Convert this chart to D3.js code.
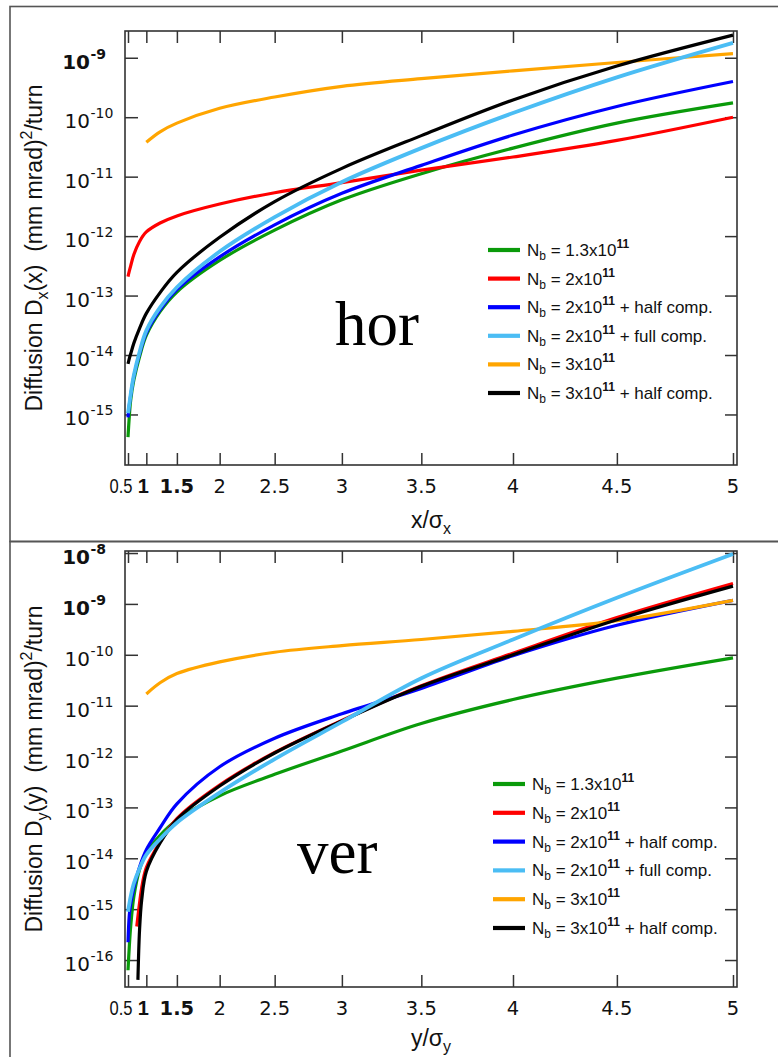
<!DOCTYPE html>
<html><head><meta charset="utf-8">
<script src="https://cdn.jsdelivr.net/npm/d3@7"></script>
<style>body{margin:0;background:#fff}svg{display:block}</style>
</head><body>
<svg id="c" width="778" height="1057" xmlns="http://www.w3.org/2000/svg"></svg>
<script>
// ---------- data ----------
const xTicks = [0.5, 1, 1.5, 2, 2.5, 3, 3.5, 4, 4.5, 5];
const xTickLabels = ["0.5", "1", "1.5", "2", "2.5", "3", "3.5", "4", "4.5", "5"];
const horYTickExps = [-9, -10, -11, -12, -13, -14, -15];
const verYTickExps = [-8, -9, -10, -11, -12, -13, -14, -15, -16];

const seriesColors = ["#0a9a0a", "#ff0000", "#0000ff", "#4bbdf4", "#ffa500", "#000000"];
const legendCoef = ["1.3x10", "2x10", "2x10", "2x10", "3x10", "3x10"];
const legendExp = ["11", "11", "11", "11", "11", "11"];
const legendSuffix = ["", "", " + half comp.", " + full comp.", "", " + half comp."];

// sample abscissae (x/sigma)
const xGrid = [0.5, 0.55, 0.6, 0.7, 0.85, 1, 1.25, 1.5, 2, 2.5, 3, 3.5, 4, 4.5, 5];
const xFrom1 = [1, 1.25, 1.5, 2, 2.5, 3, 3.5, 4, 4.5, 5];
const xRedVer = [0.78, 0.85, 0.9, 1, 1.25, 1.5, 2, 2.5, 3, 3.5, 4, 4.5, 5];
const xBlackVer = [0.81, 0.85, 0.9, 1, 1.25, 1.5, 2, 2.5, 3, 3.5, 4, 4.5, 5];

// horizontal: log10 of D_x (mm mrad)^2/turn
const horGreen  = [-15.38, -15.04, -14.76, -14.42, -14.03, -13.67, -13.27, -12.94, -12.41, -11.90, -11.39, -10.95, -10.52, -10.10, -9.76];
const horRed    = [-12.68, -12.59, -12.50, -12.31, -12.09, -11.93, -11.78, -11.66, -11.46, -11.27, -11.10, -10.89, -10.67, -10.39, -10.00];
const horBlue   = [-15.05, -14.85, -14.68, -14.36, -13.98, -13.63, -13.24, -12.90, -12.35, -11.81, -11.28, -10.81, -10.30, -9.82, -9.40];
const horLBlue  = [-14.98, -14.83, -14.66, -14.34, -13.95, -13.59, -13.20, -12.86, -12.26, -11.68, -11.09, -10.52, -9.93, -9.33, -8.75];
const horOrange = [-10.42, -10.245, -10.10, -9.85, -9.66, -9.48, -9.35, -9.22, -9.08, -8.93];
const horBlack  = [-14.15, -14.06, -13.98, -13.80, -13.55, -13.30, -12.95, -12.61, -12.02, -11.42, -10.86, -10.31, -9.71, -9.14, -8.62];

// vertical: log10 of D_y (mm mrad)^2/turn
const verGreen  = [-16.20, -15.74, -15.34, -14.75, -14.22, -13.89, -13.55, -13.25, -12.77, -12.35, -11.89, -11.35, -10.88, -10.46, -10.06];
const verRed    = [-15.34, -14.88, -14.58, -14.18, -13.68, -13.22, -12.56, -11.92, -11.29, -10.61, -9.97, -9.27, -8.60];
const verBlue   = [-15.65, -15.12, -14.90, -14.58, -14.17, -13.83, -13.40, -12.93, -12.20, -11.64, -11.16, -10.66, -10.02, -9.42, -8.93];
const verLBlue  = [-15.05, -14.90, -14.75, -14.49, -14.20, -13.93, -13.62, -13.30, -12.71, -12.05, -11.32, -10.46, -9.70, -8.88, -8.02];
const verOrange = [-10.77, -10.55, -10.37, -10.14, -9.95, -9.82, -9.70, -9.54, -9.33, -8.93];
const verBlack  = [-16.39, -15.41, -14.82, -14.26, -13.70, -13.24, -12.58, -11.93, -11.30, -10.62, -10.00, -9.31, -8.65];

const zip = (xs, ys) => xs.map((v, i) => [v, ys[i]]);

const horSeries = [zip(xGrid, horGreen), zip(xGrid, horRed), zip(xGrid, horBlue),
                   zip(xGrid, horLBlue), zip(xFrom1, horOrange), zip(xGrid, horBlack)];
const verSeries = [zip(xGrid, verGreen), zip(xRedVer, verRed), zip(xGrid, verBlue),
                   zip(xGrid, verLBlue), zip(xFrom1, verOrange), zip(xBlackVer, verBlack)];

// ---------- drawing ----------
const svg = d3.select("#c");
const FONT = "'Liberation Sans', Arial, Helvetica, sans-serif";
const TICKFONT = "'DejaVu Sans', Verdana, sans-serif";
const AX = "#333";

// outer frames
svg.append("rect").attr("x", 10).attr("y", 6.5).attr("width", 820).attr("height", 535)
  .attr("fill", "none").attr("stroke", "#555").attr("stroke-width", 1.6);
svg.append("rect").attr("x", 10).attr("y", 541.5).attr("width", 820).attr("height", 600)
  .attr("fill", "none").attr("stroke", "#555").attr("stroke-width", 1.6);

const drawOrder = [0, 1, 2, 4, 5, 3];

function panel(cfg) {
  const g = svg.append("g");
  const L = 125, R = 737, T = cfg.top, B = cfg.bottom;
  const x = d3.scalePow().exponent(2).domain([0.3568, 5.0164]).range([L, R]);
  const y = d3.scaleLog().domain([Math.pow(10, cfg.yMinExp), Math.pow(10, cfg.yMaxExp)]).range([B, T]);

  const clipId = "clip" + cfg.id;
  svg.append("defs").append("clipPath").attr("id", clipId)
    .append("rect").attr("x", L).attr("y", T).attr("width", R - L).attr("height", B - T);

  // axes with inward ticks
  const axB = g.append("g").attr("transform", `translate(0,${B})`)
    .call(d3.axisBottom(x).tickValues(xTicks).tickSize(-12).tickFormat(""));
  const axT = g.append("g").attr("transform", `translate(0,${T})`)
    .call(d3.axisTop(x).tickValues(xTicks).tickSize(-12).tickFormat(""));
  const yVals = cfg.yTicks.map(e => Math.pow(10, e));
  const axL = g.append("g").attr("transform", `translate(${L},0)`)
    .call(d3.axisLeft(y).tickValues(yVals).tickSize(-13).tickFormat(""));
  const axR = g.append("g").attr("transform", `translate(${R},0)`)
    .call(d3.axisRight(y).tickValues(yVals).tickSize(-12).tickFormat(""));
  [axB, axT, axL, axR].forEach(a => {
    a.select(".domain").remove();
    a.selectAll("line").attr("stroke", AX).attr("stroke-width", 1.5);
  });
  g.append("rect").attr("x", L).attr("y", T).attr("width", R - L).attr("height", B - T)
    .attr("fill", "none").attr("stroke", AX).attr("stroke-width", 1.6);

  // x tick labels ("0.5" and "1" sit tight together as in the original)
  xTicks.forEach((d, i) => {
    const t = g.append("text").attr("y", B + 28)
      .attr("text-anchor", "middle").attr("font-family", TICKFONT).attr("font-size", 19.5)
      .attr("fill", "#111").text(xTickLabels[i]);
    if (d === 0.5) t.attr("x", x(d) - 7).attr("font-family", FONT).attr("font-size", 20)
      .attr("textLength", 23).attr("lengthAdjust", "spacingAndGlyphs");
    else if (d === 1) t.attr("x", x(d) - 3).attr("font-family", FONT).attr("font-size", 20).attr("font-weight", "bold");
    else t.attr("x", x(d));
    if (d === 1.5) t.attr("font-weight", "bold");
  });

  // y tick labels 10^e
  cfg.yTicks.forEach(e => {
    const yy = y(Math.pow(10, e));
    const bold = cfg.boldExps.includes(e) ? "bold" : "normal";
    g.append("text").attr("x", 90).attr("y", yy + 11).attr("text-anchor", "end")
      .attr("font-family", TICKFONT).attr("font-size", 20).attr("font-weight", bold).attr("fill", "#111").text("10");
    g.append("text").attr("x", 90.5).attr("y", yy + 1).attr("text-anchor", "start")
      .attr("font-family", TICKFONT).attr("font-size", 14).attr("font-weight", bold).attr("fill", "#111").text("-" + (-e));
  });

  // curves
  const line = d3.line().x(d => x(d[0])).y(d => y(Math.pow(10, d[1])))
    .curve(d3.curveCatmullRom.alpha(0.5));
  const cg = g.append("g").attr("clip-path", `url(#${clipId})`);
  drawOrder.forEach(i => {
    cg.append("path").datum(cfg.series[i]).attr("d", line)
      .attr("fill", "none").attr("stroke", seriesColors[i])
      .attr("stroke-width", i === 3 ? 3.8 : 3.2).attr("stroke-linecap", "butt")
      .attr("stroke-linejoin", "round");
  });

  // legend
  seriesColors.forEach((c, i) => {
    const ly = cfg.legY + i * cfg.legDy;
    g.append("line").attr("x1", cfg.legX).attr("x2", cfg.legX + 32).attr("y1", ly).attr("y2", ly)
      .attr("stroke", c).attr("stroke-width", 4.2);
    const t = g.append("text").attr("x", cfg.legX + 39).attr("y", ly + 6)
      .attr("font-family", FONT).attr("font-size", 17).attr("fill", "#111");
    t.append("tspan").text("N");
    t.append("tspan").attr("font-size", 12).attr("dy", 4).text("b");
    t.append("tspan").attr("dy", -4).text(" = " + legendCoef[i]);
    t.append("tspan").attr("font-size", 12).attr("font-weight", "bold").attr("dy", -8).text(legendExp[i]);
    if (legendSuffix[i]) t.append("tspan").attr("dy", 8).text(legendSuffix[i]);
  });

  // axis titles
  const xt = g.append("text").attr("x", (L + R) / 2).attr("y", cfg.xTitleY).attr("text-anchor", "middle")
    .attr("font-family", FONT).attr("font-size", 23).attr("fill", "#111");
  xt.append("tspan").text(cfg.v + "/\u03c3");
  xt.append("tspan").attr("font-size", 16).attr("dy", 6).text(cfg.v);

  const yt = g.append("text").attr("transform", `translate(42,${(T + B) / 2}) rotate(-90)`)
    .attr("text-anchor", "middle").attr("font-family", FONT).attr("font-size", 23).attr("fill", "#111");
  yt.append("tspan").text("Diffusion D");
  yt.append("tspan").attr("font-size", 16).attr("dy", 6).text(cfg.v);
  yt.append("tspan").attr("dy", -6).text("(" + cfg.v + ")\u00a0\u00a0(mm mrad)");
  yt.append("tspan").attr("font-size", 16).attr("dy", -10).text("2");
  yt.append("tspan").attr("dy", 10).text("/turn");

  // big label
  g.append("text").attr("x", cfg.tagX).attr("y", cfg.tagY)
    .attr("font-family", "'Liberation Serif', 'Times New Roman', serif").attr("font-size", 63)
    .attr("fill", "#000").text(cfg.tag);
}

panel({ id: "h", top: 31, bottom: 465, yMinExp: -15.85, yMaxExp: -8.55, yTicks: horYTickExps,
  boldExps: [-9], series: horSeries, legX: 488, legY: 250, legDy: 28.6, xTitleY: 528, v: "x",
  tag: "hor", tagX: 335, tagY: 345 });
panel({ id: "v", top: 551, bottom: 987, yMinExp: -16.53, yMaxExp: -7.96, yTicks: verYTickExps,
  boldExps: [-8, -9], series: verSeries, legX: 493, legY: 784, legDy: 28.8, xTitleY: 1046, v: "y",
  tag: "ver", tagX: 297, tagY: 873 });
</script>
</body></html>
